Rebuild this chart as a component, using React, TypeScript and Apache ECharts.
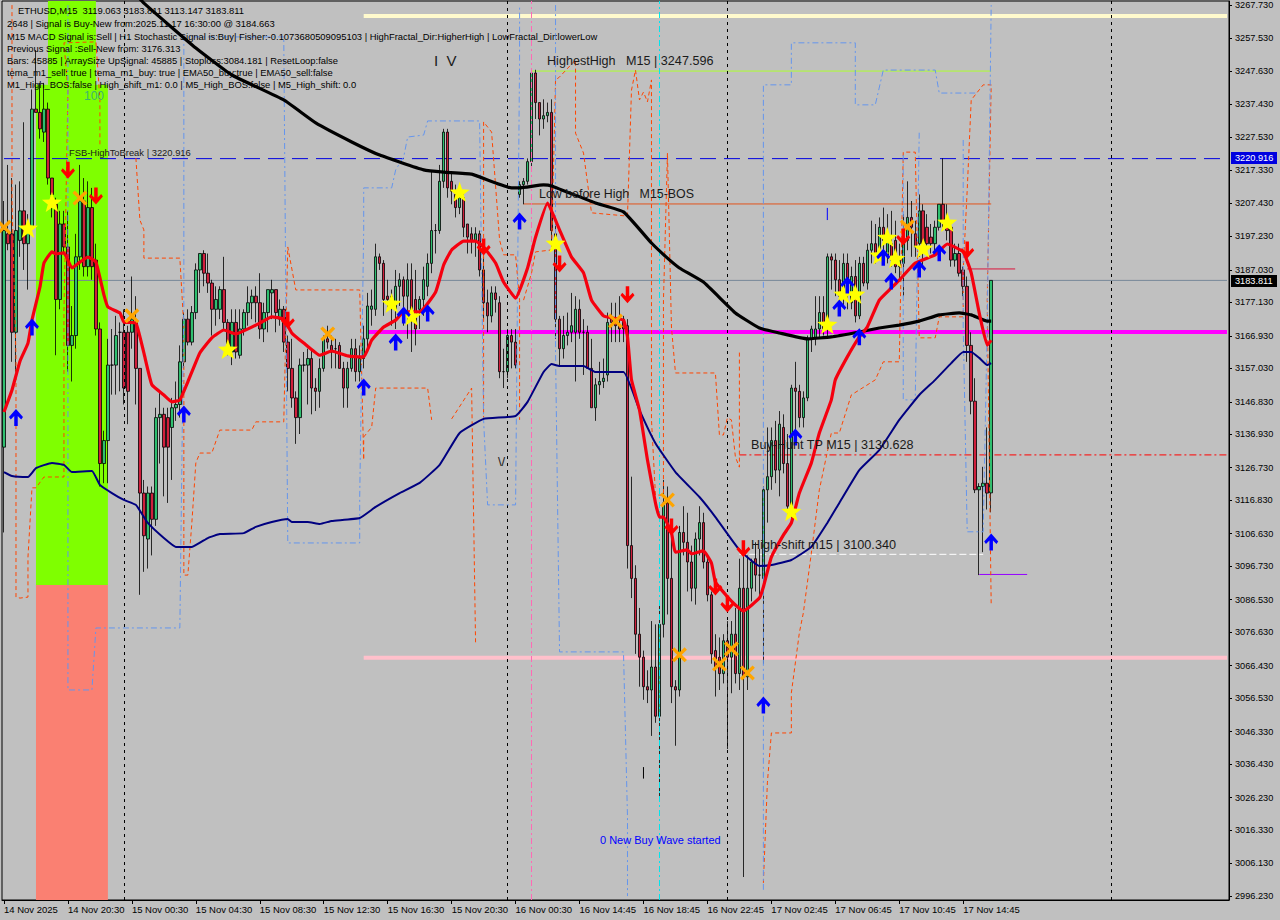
import React, { useEffect, useRef } from "react";
import * as echarts from "echarts";

const axisMin = 2995.0;
const axisMax = 3268.95;
const slotCount = 307;

const timeLabels = ["14 Nov 2025","14 Nov 20:30","15 Nov 00:30","15 Nov 04:30","15 Nov 08:30","15 Nov 12:30","15 Nov 16:30","15 Nov 20:30","16 Nov 00:30","16 Nov 14:45","16 Nov 18:45","16 Nov 22:45","17 Nov 02:45","17 Nov 06:45","17 Nov 10:45","17 Nov 14:45"];
const priceTicks = [3267.73,3257.53,3247.63,3237.43,3227.53,3217.33,3207.43,3197.23,3187.03,3177.13,3166.93,3157.03,3146.83,3136.93,3126.73,3116.83,3106.63,3096.73,3086.53,3076.63,3066.43,3056.53,3046.33,3036.43,3026.23,3016.33,3006.13,2996.23];

// open, close, low, high
const candles: number[][] = [
[3133,3199,3107,3208],[3198,3195,3193,3219],[3198,3168,3159,3215],[3168,3199,3156,3213],[3196,3205,3191,3214],[3205,3195,3187,3232],[3195,3201,3181,3204],[3200,3236,3198,3242],
[3236,3235,3235,3254],[3235,3230,3227,3244],[3229,3236,3226,3244],[3236,3215,3213,3238],[3215,3210,3203,3215],[3207,3178,3161,3209],[3178,3201,3175,3205],[3201,3194,3192,3205],
[3194,3164,3156,3205],[3164,3167,3153,3176],[3167,3191,3163,3198],[3191,3208,3187,3219],[3208,3188,3185,3215],[3188,3206,3185,3214],[3206,3188,3184,3212],[3190,3169,3167,3195],
[3169,3128,3121,3171],[3128,3135,3122,3138],[3135,3158,3122,3166],[3158,3158,3149,3169],[3158,3167,3149,3173],[3168,3168,3150,3171],[3168,3151,3146,3175],[3168,3150,3140,3170],
[3168,3172,3163,3185],[3171,3157,3146,3179],[3157,3119,3088,3157],[3119,3106,3095,3123],[3105,3119,3096,3121],[3119,3111,3100,3121],[3111,3142,3109,3145],[3142,3143,3128,3150],
[3143,3133,3118,3145],[3142,3133,3116,3145],[3139,3145,3123,3148],[3145,3146,3141,3153],[3146,3159,3142,3164],[3159,3172,3157,3174],[3172,3165,3164,3175],[3165,3174,3164,3176],
[3174,3187,3172,3189],[3187,3192,3180,3192],[3192,3186,3182,3193],[3186,3183,3180,3192],[3183,3175,3167,3184],[3175,3178,3170,3182],[3175,3181,3172,3182],[3181,3171,3169,3191],
[3171,3163,3161,3172],[3162,3171,3158,3175],[3171,3162,3160,3175],[3161,3169,3160,3175],[3169,3174,3167,3175],[3174,3177,3170,3182],[3177,3179,3172,3181],[3179,3177,3171,3182],
[3177,3169,3166,3186],[3169,3174,3165,3177],[3174,3181,3168,3181],[3180,3181,3172,3184],[3181,3174,3168,3181],[3172,3175,3170,3178],[3175,3165,3162,3176],[3165,3157,3150,3167],
[3157,3148,3145,3166],[3148,3142,3134,3150],[3142,3158,3137,3160],[3158,3158,3156,3162],[3158,3160,3146,3163],[3160,3151,3143,3163],[3151,3150,3144,3154],[3150,3157,3145,3160],
[3157,3166,3156,3167],[3166,3165,3163,3170],[3164,3162,3157,3167],[3163,3163,3157,3166],[3164,3157,3157,3165],[3157,3151,3145,3159],[3151,3157,3145,3159],[3157,3163,3156,3166],
[3163,3156,3153,3166],[3156,3160,3153,3164],[3160,3166,3157,3170],[3166,3176,3163,3180],[3175,3176,3170,3181],[3175,3191,3173,3195],[3191,3189,3187,3192],[3189,3178,3173,3190],
[3179,3178,3175,3184],[3178,3179,3170,3181],[3175,3182,3169,3187],[3182,3184,3176,3186],[3184,3179,3170,3185],[3179,3184,3166,3189],[3184,3172,3162,3189],[3178,3169,3164,3187],
[3175,3178,3169,3179],[3178,3184,3173,3188],[3182,3189,3179,3192],[3189,3199,3186,3217],[3199,3199,3192,3201],[3199,3214,3198,3219],[3214,3229,3212,3230],[3229,3212,3209,3230],
[3214,3211,3207,3217],[3210,3206,3203,3213],[3206,3209,3204,3212],[3209,3200,3197,3211],[3201,3197,3192,3201],[3198,3196,3192,3200],[3196,3198,3191,3200],[3198,3187,3185,3199],
[3187,3177,3172,3191],[3177,3173,3168,3181],[3173,3180,3171,3182],[3180,3178,3174,3182],[3177,3156,3154,3179],[3156,3156,3151,3163],[3156,3167,3154,3169],[3167,3165,3157,3169],
[3165,3158,3157,3169],[3210,3213,3209,3214],[3213,3214,3207,3215],[3214,3220,3213,3221],[3220,3247,3217,3248],[3247,3238,3233,3248],[3238,3233,3228,3238],[3233,3234,3230,3239],
[3234,3235,3232,3238],[3235,3199,3194,3239],[3198,3172,3166,3201],[3172,3163,3158,3173],[3163,3167,3160,3173],[3167,3168,3164,3174],[3168,3170,3165,3180],[3168,3175,3153,3179],
[3175,3168,3166,3178],[3168,3168,3155,3172],[3168,3157,3157,3170],[3157,3145,3145,3166],[3145,3152,3141,3154],[3152,3153,3149,3159],[3153,3154,3151,3160],[3155,3171,3153,3174],
[3172,3171,3165,3177],[3171,3170,3165,3177],[3170,3169,3165,3179],[3172,3169,3165,3173],[3170,3103,3096,3172],[3103,3093,3087,3124],[3093,3076,3070,3097],[3076,3069,3060,3084],
[3069,3060,3056,3071],[3060,3059,3055,3065],[3059,3066,3045,3080],[3066,3051,3049,3079],[3051,3079,3025,3086],[3079,3116,3075,3123],[3116,3093,3082,3121],[3093,3060,3055,3107],
[3060,3059,3042,3062],[3059,3107,3057,3109],[3107,3104,3100,3115],[3104,3098,3089,3113],[3098,3090,3086,3103],[3090,3105,3085,3107],[3105,3110,3100,3115],[3110,3098,3096,3113],
[3098,3088,3086,3100],[3088,3070,3067,3089],[3071,3066,3057,3076],[3069,3064,3059,3075],[3064,3074,3061,3076],[3074,3069,3041,3080],[3069,3076,3058,3080],[3076,3064,3061,3084],
[3064,3090,3059,3099],[3090,3063,3002,3100],[3063,3090,3059,3100],[3090,3098,3086,3099],[3099,3094,3089,3104],[3094,3094,3088,3102],[3093,3120,3067,3121],[3120,3124,3110,3139],
[3124,3135,3120,3139],[3135,3126,3122,3141],[3126,3140,3118,3144],[3139,3128,3125,3143],[3128,3115,3112,3137],[3114,3151,3111,3152],[3151,3150,3138,3159],[3150,3142,3139,3152],
[3142,3148,3139,3150],[3148,3166,3147,3167],[3166,3169,3162,3170],[3166,3169,3164,3179],[3169,3174,3166,3179],[3174,3169,3167,3179],[3169,3191,3166,3192],[3191,3190,3181,3192],
[3190,3184,3179,3192],[3184,3179,3178,3190],[3179,3189,3176,3192],[3189,3180,3175,3192],[3177,3185,3175,3188],[3185,3173,3171,3190],[3173,3189,3172,3191],[3189,3183,3182,3191],
[3183,3193,3181,3195],[3193,3195,3189,3202],[3195,3192,3189,3201],[3192,3200,3190,3203],[3200,3196,3192,3206],[3191,3196,3189,3204],[3195,3190,3188,3205],[3196,3188,3186,3202],
[3188,3190,3184,3195],[3189,3196,3179,3204],[3196,3203,3193,3214],[3203,3200,3191,3208],[3198,3194,3191,3202],[3195,3205,3191,3210],[3205,3195,3188,3207],[3200,3195,3192,3204],
[3197,3195,3192,3201],[3195,3200,3193,3202],[3200,3207,3199,3207],[3207,3202,3200,3221],[3202,3199,3196,3207],[3200,3190,3188,3202],[3190,3192,3188,3195],[3192,3186,3185,3195],
[3187,3182,3179,3188],[3182,3164,3159,3185],[3164,3147,3143,3168],[3147,3120,3119,3154],[3120,3121,3094,3122],[3121,3122,3101,3127],[3122,3119,3114,3139],[3119.063,3183.811,3113.147,3183.811],
];

const redTema: [number, number][] = [[0,3143.7],[2,3150.4],[4,3159.2],[6,3164.7],[7,3171.7],[9,3181.8],[10,3189.1],[12,3192.5],[13,3191.9],[15,3192.2],[17,3187.6],[19,3189.4],[21,3190.9],[23,3189.4],[25,3179.4],[26,3175.7],[29,3173.9],[30,3171.1],[33,3170.8],[35,3161.7],[37,3152],[40,3148.9],[42,3146.8],[44,3147.4],[46,3152.9],[49,3161.7],[52,3166.3],[55,3168.7],[58,3167.5],[64,3170.8],[67,3172.7],[70,3172],[72,3167.8],[75,3164.7],[79,3161],[82,3162.3],[86,3160.8],[90,3160.5],[92,3165.6],[95,3169.6],[98,3171.7],[100,3174.2],[104,3174.2],[108,3180.3],[110,3188.5],[112,3193.1],[115,3195.8],[118,3195.8],[120,3194],[123,3189.1],[125,3183.3],[128,3178.4],[131,3187.6],[133,3197],[136,3207.4],[139,3199.2],[142,3190.9],[145,3186.1],[147,3177.8],[150,3173],[152,3172.4],[155,3171.7],[156,3166.6],[157,3153.5],[159,3144.3],[161,3129.1],[163,3116],[164,3111.7],[165,3111.7],[167,3106.9],[168,3101],[171,3101.7],[172,3100.5],[175,3101.4],[177,3097.7],[178,3091.9],[181,3087.4],[183,3084.9],[185,3083.1],[189,3087],[190,3090.4],[192,3099.5],[195,3106.2],[197,3109.9],[199,3119],[202,3128.2],[204,3137.3],[207,3147.4],[208,3153.5],[211,3160.5],[214,3166.6],[216,3169.6],[219,3177.8],[222,3181.5],[224,3183.9],[228,3189.1],[233,3191.6],[236,3194.9],[240,3192.5],[242,3186.1],[244,3173.9],[246,3164.1],[247,3165.6]];
const navyEma: [number, number][] = [[0,3125.4],[2,3124.2],[6,3123.9],[8,3126.6],[12,3128.2],[15,3127.6],[17,3125.4],[22,3125.7],[24,3121.5],[27,3119],[30,3116.9],[33,3115.4],[36,3109.9],[40,3105.3],[43,3102.6],[47,3102.6],[51,3105.3],[54,3106.5],[60,3106.8],[63,3108.7],[67,3110.2],[71,3111.1],[72,3110.2],[76,3110.2],[79,3109.6],[82,3110.5],[89,3111.4],[93,3114.8],[99,3119],[104,3122.1],[109,3127.6],[114,3137.3],[120,3141.6],[128,3142.5],[131,3146.8],[135,3155.9],[137,3158.3],[139,3157.7],[145,3157.7],[148,3155.9],[155,3155.9],[159,3144.3],[163,3134.2],[168,3125.4],[174,3117.8],[178,3111.7],[184,3101.7],[189,3096.8],[192,3097.1],[197,3098.6],[202,3102.6],[206,3109.9],[209,3116],[214,3126],[219,3132.1],[224,3141.3],[229,3148.9],[233,3153.5],[237,3158.6],[240,3162],[242,3162],[244,3160.2],[246,3158],[247,3158.6]];
const blackEma: [number, number][] = [[32,3272.3],[35,3268.3],[48,3254.6],[57,3246.4],[70,3238.8],[78,3231.8],[87,3226],[94,3222],[105,3217.5],[110,3216.8],[117,3216.2],[127,3212],[129,3212],[135,3212.9],[137,3212.6],[148,3207.4],[155,3204.7],[162,3195.2],[166,3190.6],[169,3187.6],[175,3183.3],[183,3173.9],[189,3169.3],[194,3167.8],[201,3166],[207,3166.6],[214,3168.1],[219,3169.3],[224,3170.2],[229,3171.4],[234,3173.3],[239,3173.9],[242,3173.3],[246,3171.4],[247,3171.4]];

const orangeSegments: [number, number][][] = [
[[2,3267.7],[2,3208.3],[3,3160.5],[3,3087.3],[4,3087],[6,3087.3],[6,3099.5],[7,3120.6],[8,3120.6],[10,3123.9],[15,3123.9],[15,3173.9],[16,3241.8],[15,3256.2],[23,3256.5],[24,3238.8],[24,3225.1]],
[[33,3221.1],[34,3202.2],[35,3199.2],[35,3190.6],[44,3190.6],[45,3169.6],[45,3094],[46,3094],[47,3109.9],[48,3128.2],[49,3131.2],[52,3131.2],[54,3138.2],[62,3138.2],[63,3140.7],[70,3140.7],[71,3194],[73,3180.9],[89,3180.9],[90,3129.1],[90,3136.1],[92,3139.1],[93,3151],[106,3151],[107,3141.3]],
[[112,3141.6],[117,3151],[118,3072.7]],
[[120,3141.3],[120,3232.1],[122,3229],[124,3196.1],[125,3191.6],[128,3191.6],[129,3177.8],[129,3141.3]],
[[130,3177.8],[132,3186.1],[133,3192.5],[137,3193.1],[138,3244.9],[139,3245.8],[143,3251],[143,3241.8],[143,3228.7],[145,3222.6],[147,3204.4],[156,3203.4],[157,3241.8],[158,3247.9],[159,3238.8],[160,3241.2],[161,3238.2],[162,3244.9],[162,3141.3],[163,3118.4],[165,3118.4],[165,3177.8],[166,3222.6],[167,3169.6],[168,3155.6],[178,3155.6],[179,3136.7],[180,3136.7],[181,3141.9],[182,3141.3],[183,3130],[184,3126.9],[184,3162.6]],
[[190,3000.2],[191,3030.7],[192,3045.9],[197,3045.9],[197,3058.1],[199,3076.4],[200,3082.5],[202,3100.7],[204,3120],[207,3137.3],[209,3137.3],[212,3148.9],[218,3153.5],[220,3159],[224,3159],[225,3222.9],[228,3222.9],[229,3166.3],[233,3166.3],[234,3172.7],[240,3172.7],[240,3187],[241,3211.4],[242,3238.8],[245,3243.4],[247,3243.4],[246,3177.8],[247,3084.9]],
];
const blueSegments: [number, number][][] = [
[[16,3267.7],[16,3241.8],[16,3086.4],[16,3059],[22,3059],[23,3077.9],[44,3077.9],[45,3177.8],[45,3258],[70,3258],[71,3103.8],[89,3103.8],[89,3117.8],[90,3199.2],[90,3212],[97,3212],[98,3217.5],[100,3221.4],[101,3227.5],[105,3228.1],[106,3232.4],[119,3232.4],[120,3141.3],[121,3115.4],[128,3115.4],[129,3251],[129,3267.7]],
[[138,3267.7],[138,3161.7],[139,3070.6],[155,3070.6],[156,3020.3],[156,2996.2]],
[[190,2998.1],[190,3243.4],[197,3243.4],[197,3256.2],[213,3256.2],[213,3237.3],[218,3237.3],[220,3247.9],[233,3247.9],[234,3240.9],[243,3240.9]],
[[225,3222],[225,3147.4],[228,3147.4],[229,3229.6]],
[[240,3226.6],[240,3176.9],[240,3169.6],[241,3107.2],[245,3107.2],[246,3169.6],[247,3267.7]],
];
const shortBlueTick: [number, number][] = [[206,3205.9],[206,3202.2]];
const shortBlackTick: [number, number][] = [[160,3035.5],[160,3032]];

const blueArrows: [number, number][] = [[3,3142],[7,3169.6],[45,3143.1],[90,3151.3],[98,3165],[100,3173.3],[106,3173.9],[129,3201.9],[190,3054.4],[198,3136.1],[209,3175.4],[211,3182.4],[214,3166.6],[220,3190.9],[222,3183.6],[229,3187.3],[234,3192.2],[247,3104.1]];
const redArrows: [number, number][] = [[16,3217.4],[23,3209.5],[71,3171.7],[120,3194],[139,3188.8],[156,3179.4],[167,3108.7],[178,3090.4],[181,3085.2],[185,3102],[225,3197],[241,3193.1]];
const stars: [number, number][] = [[6,3199.8],[12,3207.7],[56,3162.9],[97,3176.9],[102,3173],[114,3210.8],[138,3195.2],[197,3113.5],[206,3170.5],[210,3179.7],[213,3179.7],[219,3191.6],[221,3197],[223,3190.6],[230,3193.7],[236,3201.6]];
const crosses: [number, number][] = [[0,3200],[19,3208.9],[32,3173],[81,3167.5],[153,3171.4],[166,3116.9],[169,3069.7],[179,3066.9],[182,3071.5],[186,3064.2],[226,3200.1]];

const verticalBlack = [30, 126, 181, 277];
const verticalPink = 132;
const verticalCyan = 164;

const levelMagenta = 3168.1;
const levelPink = 3068.8;
const levelCream = 3264.4;
const levelFsb = 3220.916;
const levelBid = 3183.811;
const levelTp = 3130.628;
const levelHighest = 3247.596;
const levelLow = 3207.1;
const levelShift = 3100.34;
const levelPurple = 3094.2;
const levelCrimson = 3187.3;

const zoneGreenTop = 3243.4;
const zoneSplit = 3091;

const infoLines = [
  "ETHUSD,M15  3119.063 3183.811 3113.147 3183.811",
  "2648 | Signal is Buy-New from:2025.11.17 16:30:00 @ 3184.663",
  "M15 MACD Signal is:Sell | H1 Stochastic Signal is:Buy| Fisher:-0.1073680509095103 | HighFractal_Dir:HigherHigh | LowFractal_Dir:lowerLow",
  "Previous Signal :Sell-New from: 3176.313",
  "Bars: 45885 | ArraySize UpSignal: 45885 | Stoploss:3084.181 | ResetLoop:false",
  "tema_m1_sell: true | tema_m1_buy: true | EMA50_buy:true | EMA50_sell:false",
  "M1_High_BOS:false | High_shift_m1: 0.0 | M5_High_BOS:false | M5_High_shift: 0.0",
];

const FONT = "'Liberation Sans', sans-serif";
const STAR = "path://M12 0 L15 8.5 L24 9 L17 14.5 L19.5 23 L12 18 L4.5 23 L7 14.5 L0 9 L9 8.5 Z";
const CROSS = "path://M2.5 0 L8 5.5 L13.5 0 L16 2.5 L10.5 8 L16 13.5 L13.5 16 L8 10.5 L2.5 16 L0 13.5 L5.5 8 L0 2.5 Z";
const UP = "path://M8 0 L16 8 L14 10.5 L10 7 L10 17 L6 17 L6 7 L2 10.5 L0 8 Z";
const DOWN = "path://M6 0 L10 0 L10 10 L14 6.5 L16 9 L8 17 L0 9 L2 6.5 L6 10 Z";

function seg(a: number, b: number, v: number, color: string, width: number, type: any, z = 1) {
  return { type: "line", data: [[a, v], [b, v]], symbol: "none", silent: true, z, lineStyle: { color, width, type } };
}
function pathLine(data: [number, number][], color: string, width: number, type: any, z: number, smooth: number = 0) {
  return { type: "line", data, symbol: "none", silent: true, z, smooth, lineStyle: { color, width, type, join: "round" } };
}
function marks(data: [number, number][], symbol: string, size: any, color: string) {
  return { type: "scatter", data, symbol, symbolSize: size, silent: true, z: 9, itemStyle: { color, opacity: 1 } };
}
function label(x: number, y: number, text: string, fontSize: number, fill = "#1a1a1a") {
  return { type: "text", x, y, z: 20, silent: true, style: { text, fontSize, fontFamily: FONT, fill, verticalAlign: "middle" } };
}
function priceTag(y: number, text: string, bg: string) {
  return [
    { type: "rect", x: 1231, y: y - 6, z: 20, silent: true, shape: { width: 46, height: 12 }, style: { fill: bg } },
    { type: "text", x: 1235, y, z: 21, silent: true, style: { text, fontSize: 9.2, fontFamily: FONT, fill: "#fff", verticalAlign: "middle" } },
  ];
}

export default function App() {
  const ref = useRef<HTMLDivElement>(null);
  useEffect(() => {
    document.body.style.margin = "0";
    document.body.style.background = "#C0C0C0";
    const chart = echarts.init(ref.current!, undefined, { renderer: "svg" });
    const categories = Array.from({ length: slotCount }, (_, i) => (i % 16 === 0 && i / 16 < timeLabels.length ? timeLabels[i / 16] : ""));
    const showTick = (_: number, v: string) => v !== "";
    const dash = [3, 4];
    const dashDot = [6, 3, 2, 3];
    const series: any[] = [
      {
        type: "line", data: [], z: 0, silent: true,
        markArea: {
          silent: true,
          data: [
            [{ xAxis: 11, yAxis: zoneGreenTop, itemStyle: { color: "#7FFF00", opacity: 1 } }, { xAxis: 23, yAxis: axisMax }],
            [{ xAxis: 8, yAxis: zoneSplit, itemStyle: { color: "#7FFF00", opacity: 1 } }, { xAxis: 26, yAxis: zoneGreenTop }],
            [{ xAxis: 8, yAxis: axisMin, itemStyle: { color: "#FA8072", opacity: 1 } }, { xAxis: 26, yAxis: zoneSplit }],
          ],
        },
      },
      seg(0, 306, levelBid, "#778899", 1, "solid"),
      seg(0, 306, levelFsb, "#0000E0", 1, [16, 8]),
      seg(91, 306, levelMagenta, "#FF00FF", 4, "solid"),
      seg(90, 306, levelPink, "#FFC0CB", 4, "solid"),
      seg(90, 306, levelCream, "#FFFACD", 4, "solid"),
      seg(184, 306, levelTp, "#FF0000", 1, [7, 3, 2, 3], 2),
      seg(132, 247, levelHighest, "#ADFF2F", 1, "solid"),
      seg(130, 247, levelLow, "#E2541C", 1, "solid"),
      seg(184, 245, levelShift, "#FFFFFF", 1, [7, 3], 2),
      seg(244, 256, levelPurple, "#9400FF", 1, "solid", 2),
      seg(241, 253, levelCrimson, "#DC143C", 1, "solid", 2),
      {
        type: "line", data: [], z: 1, silent: true,
        markLine: {
          silent: true, symbol: "none", animation: false, label: { show: false },
          data: [
            ...verticalBlack.map((x) => ({ xAxis: x, lineStyle: { color: "#000", width: 1, type: dash } })),
            { xAxis: verticalPink, lineStyle: { color: "#FF69B4", width: 1, type: dashDot } },
            { xAxis: verticalCyan, lineStyle: { color: "#00E5EE", width: 1, type: dashDot } },
          ],
        },
      },
      {
        type: "candlestick", data: candles, barWidth: 3, silent: true, z: 3,
        itemStyle: { color: "#2FBF6F", color0: "#D01F3C", borderColor: "#000", borderColor0: "#000", borderWidth: 0.8 },
      },
      ...orangeSegments.map((s) => pathLine(s, "#FF4500", 1, [4, 3], 5)),
      ...blueSegments.map((s) => pathLine(s, "#6495ED", 1, [6, 3, 2, 3], 5)),
      pathLine(shortBlueTick, "#0000FF", 1, "solid", 5),
      pathLine(shortBlackTick, "#000", 1, "solid", 5),
      pathLine(blackEma, "#000", 3.2, "solid", 6, 0.12),
      pathLine(navyEma, "#000080", 2, "solid", 6, 0.12),
      pathLine(redTema, "#F5000F", 3.2, "solid", 7, 0.12),
      marks(crosses, CROSS, 15, "#FFA500"),
      marks(stars, STAR, 20, "#FFFF00"),
      marks(blueArrows, UP, [14, 17], "#0000FF"),
      marks(redArrows, DOWN, [14, 17], "#FF0000"),
    ];
    const infoY = [10, 23, 36, 48, 60, 72, 84];
    const graphic: any[] = [
      ...infoLines.map((t, i) => label(i === 0 ? 18 : 7, infoY[i], t, 9.4, "#000")),
      label(84, 96, "100", 12, "#3CB371"),
      label(69, 152, "FSB-HighToBreak | 3220.916", 9.4),
      label(547, 61, "HighestHigh   M15 | 3247.596", 12.6),
      label(434, 60, "I  V", 15),
      label(498, 461, "\\/", 13),
      label(539, 194, "Low before High   M15-BOS", 12.4),
      label(751, 445, "Buy-Hunt TP M15 | 3130.628", 12.6),
      label(751, 545, "High-shift m15 | 3100.340", 12.7),
      label(600, 840, "0 New Buy Wave started", 11, "#0000FF"),
      ...priceTag(158, "3220.916", "#0000E0"),
      ...priceTag(281, "3183.811", "#000"),
    ];
    chart.setOption({
      animation: false,
      backgroundColor: "#C0C0C0",
      grid: { left: 2, top: 1, width: 1227, height: 899, show: true, borderColor: "#000", borderWidth: 1, containLabel: false },
      xAxis: {
        type: "category", data: categories, boundaryGap: true,
        axisLine: { show: true, lineStyle: { color: "#000", width: 1 } },
        axisTick: { show: true, alignWithLabel: true, interval: showTick, length: 4, lineStyle: { color: "#000" } },
        axisLabel: { show: true, interval: showTick, margin: 4, align: "left", color: "#000", fontSize: 9.5, fontFamily: FONT, hideOverlap: false },
        splitLine: { show: false },
      },
      yAxis: {
        type: "value", position: "right", min: axisMin, max: axisMax, scale: true,
        axisLine: { show: true, lineStyle: { color: "#000", width: 1 } },
        axisTick: { show: true, customValues: priceTicks, length: 3, lineStyle: { color: "#000" } },
        axisLabel: { show: true, customValues: priceTicks, margin: 6, color: "#000", fontSize: 9.2, fontFamily: FONT, formatter: (v: number) => v.toFixed(3) },
        splitLine: { show: false },
      },
      series,
      graphic,
    });
    return () => chart.dispose();
  }, []);
  return <div ref={ref} style={{ position: "absolute", left: 0, top: 0, width: 1280, height: 920 }} />;
}
